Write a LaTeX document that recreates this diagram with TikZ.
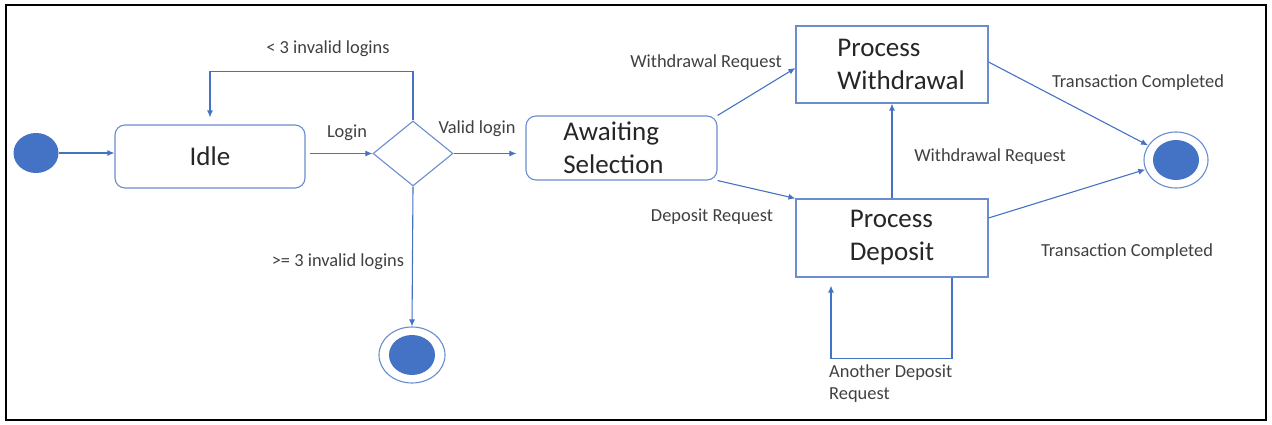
\documentclass[tikz,border=0pt]{standalone}
\usepackage{fontspec}
\setmainfont{Carlito}
\usetikzlibrary{arrows.meta,shapes.geometric}
\definecolor{ublue}{HTML}{4472C4}
\definecolor{boxline}{HTML}{6A8DD0}
\definecolor{labeltext}{HTML}{404040}
\definecolor{nodetext}{HTML}{262626}
\begin{document}
\begin{tikzpicture}[x=1pt,y=-1pt,
  flow/.style={draw=ublue,line width=1.1pt,-{Latex[length=7pt,width=6pt]}},
  state/.style={draw=boxline,line width=1.1pt,rounded corners=10pt,align=left,
    text=nodetext,font=\fontsize{27}{33}\selectfont,inner sep=0pt},
  procbox/.style={draw=boxline,line width=1.1pt,align=left,
    text=nodetext,font=\fontsize{27}{33}\selectfont,inner sep=0pt},
  choice/.style={diamond,draw=boxline,line width=1.1pt,inner sep=0pt,
    minimum width=80pt,minimum height=65pt},
  dot/.style={ellipse,fill=ublue,draw=none,inner sep=0pt},
  ring/.style={ellipse,draw=boxline,line width=1.1pt,fill=white,inner sep=0pt,
    minimum width=66pt,minimum height=56pt},
  lbl/.style={text=labeltext,font=\fontsize{18.4}{22}\selectfont,inner sep=0pt}]
\useasboundingbox (0,0) rectangle (1272,425);
\draw[line width=2pt] (6,5) rectangle (1266,420);

% states
\node[dot,minimum width=45pt,minimum height=40pt] (init) at (36,153) {};
\node[state,minimum width=190pt,minimum height=63pt] (idle) at (210,156.5) {Idle};
\node[choice] (dec) at (413,153.5) {};
\node[state,minimum width=191pt,minimum height=64pt] (await) at (621.5,148)
  {Awaiting\\Selection\hspace*{16pt}};
\node[procbox,minimum width=192pt,minimum height=77pt] (wd) at (892,64.5)
  {\hspace*{18pt}Process\\\hspace*{18pt}Withdrawal};
\node[procbox,minimum width=192pt,minimum height=78pt] (dep) at (892,238) {Process\\Deposit};

% final states
\node[ring] (endA) at (412,355) {};
\node[dot,minimum width=46pt,minimum height=40pt] (endAcore) at (412,355) {};
\node[ring,minimum width=64pt] (endB) at (1176,160) {};
\node[dot,minimum width=46pt,minimum height=40pt] (endBcore) at (1176,160) {};

% transitions
\draw[flow] (init) -- (init -| idle.west);
\draw[flow,shorten <=4pt] (idle.east |- dec.west) -- (dec.west);
\draw[flow,shorten >=7pt] (dec.north) -- ++(0,-49) -| (idle.north);
\draw[flow,shorten >=9pt] (dec.east) -- (await.west |- dec.east);
\draw[flow] (dec.south) -- (endA.north);
\draw[flow] (await.north east) -- ([yshift=-3.5pt]wd.west);
\draw[flow] (await.south east) -- (dep.north west);
\draw[flow] (dep.north) -- (wd.south);
\draw[flow] ([yshift=2.5pt]wd.east) -- (endB);
\draw[flow] ([yshift=20pt]dep.east) -- (endB);
\draw[flow,shorten >=8pt] ([xshift=60pt]dep.south) -- ++(0,81) -| ([xshift=-61pt]dep.south);

% transition labels
\node[lbl] (lLogin) at (347,133) {Login};
\node[lbl] (lValid) at (477,129) {Valid login};
\node[lbl] (lLess) at (328,49) {< 3 invalid logins};
\node[lbl] (lMore) at (338,262) {>= 3 invalid logins};
\node[lbl] (lWreqA) at (706,63) {Withdrawal Request};
\node[lbl] (lDreq) at (712,217) {Deposit Request};
\node[lbl] (lWreqB) at (990,157) {Withdrawal Request};
\node[lbl] (lDoneA) at (1138,83) {Transaction Completed};
\node[lbl] (lDoneB) at (1127,252) {Transaction Completed};
\node[lbl,anchor=west,align=left] (lAgain) at (829,384) {Another Deposit\\Request};
\end{tikzpicture}
\end{document}
